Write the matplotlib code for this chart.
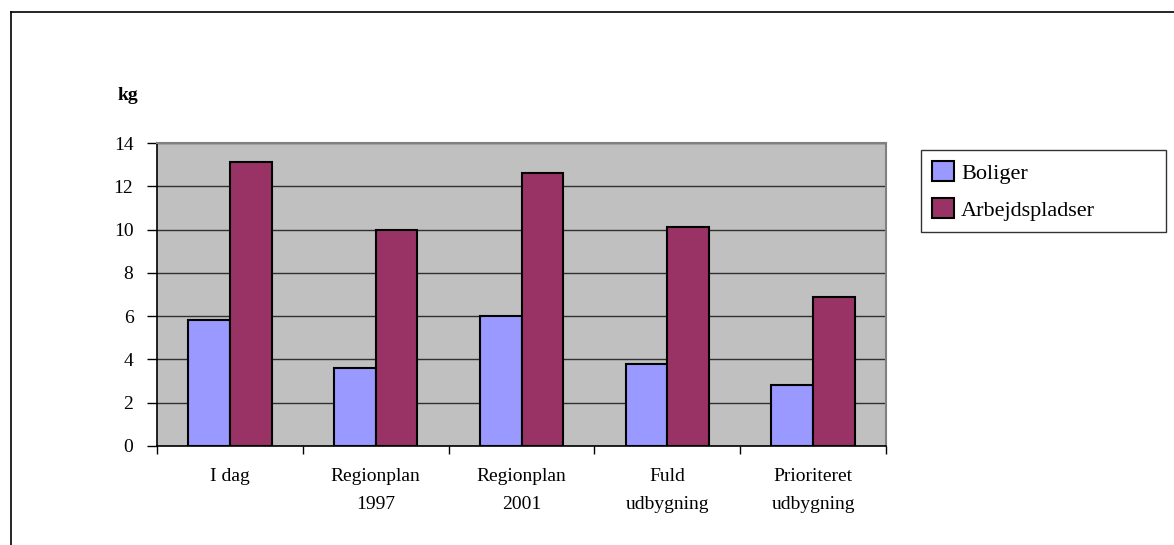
import numpy as np
import matplotlib.pyplot as plt
from matplotlib.lines import Line2D

categories = ["I dag", "Regionplan\n1997", "Regionplan\n2001", "Fuld\nudbygning", "Prioriteret\nudbygning"]
boliger = [5.8, 3.6, 6.0, 3.8, 2.8]
arbejdspladser = [13.1, 10.0, 12.6, 10.1, 6.9]
series_names = ["Boliger", "Arbejdspladser"]
yticks = [0, 2, 4, 6, 8, 10, 12, 14]

plt.rcParams['font.family'] = ['Liberation Serif', 'DejaVu Serif']

W, H = 1174, 545
fig = plt.figure(figsize=(W / 100, H / 100), dpi=100)
ax = fig.add_axes([157 / W, 1 - 446 / H, (886 - 157) / W, (446 - 143) / H])
ax.set_facecolor('#C0C0C0')

x = np.arange(len(categories))
bw = 1 / 3.5
ax.bar(x - bw / 2, boliger, bw, color='#9999FF', edgecolor='black', linewidth=1.5,
       label=series_names[0], zorder=3)
ax.bar(x + bw / 2, arbejdspladser, bw, color='#993366', edgecolor='black', linewidth=1.5,
       label=series_names[1], zorder=3)

ax.set_xlim(-0.5, len(categories) - 0.5)
ax.set_ylim(0, 14)
ax.set_yticks(yticks)
ax.set_yticklabels([str(v) for v in yticks], fontsize=14)
ax.yaxis.grid(True, color='#303030', linewidth=1.0, zorder=1)
ax.set_axisbelow(True)

# category labels centred, tick marks at category boundaries
ax.set_xticks(x)
ax.set_xticklabels(categories, fontsize=14, linespacing=1.8)
ax.tick_params(axis='x', which='major', length=0, pad=16)
ax.set_xticks(np.arange(-0.5, len(categories)), minor=True)
ax.tick_params(axis='x', which='minor', length=6, width=1, direction='out', color='black')
ax.tick_params(axis='y', length=7, width=1, direction='out', pad=10, color='black')

for s in ['top', 'right']:
    ax.spines[s].set_color('#808080')
    ax.spines[s].set_linewidth(1.5)
for s in ['bottom', 'left']:
    ax.spines[s].set_color('black')
    ax.spines[s].set_linewidth(1.2)

fig.text(128 / W, 1 - 95 / H, "kg", fontsize=14, fontweight='bold', ha='center', va='center')

leg = fig.legend(loc='upper left', bbox_to_anchor=(921 / W, 1 - 231 / H, 245 / W, 81 / H),
                 mode='expand', fontsize=16, frameon=True, fancybox=False, edgecolor='black',
                 handlelength=1.0, handleheight=1.0, handletextpad=0.3, borderpad=0.5,
                 labelspacing=0.65, borderaxespad=0)
leg.get_frame().set_linewidth(1.0)

# outer chart frame (only top and left edges visible)
fig.add_artist(Line2D([11 / W, 1], [1 - 12 / H, 1 - 12 / H], color='black', linewidth=1.2))
fig.add_artist(Line2D([11 / W, 11 / W], [0, 1 - 12 / H], color='black', linewidth=1.2))

fig.savefig('out.png', dpi=100)
